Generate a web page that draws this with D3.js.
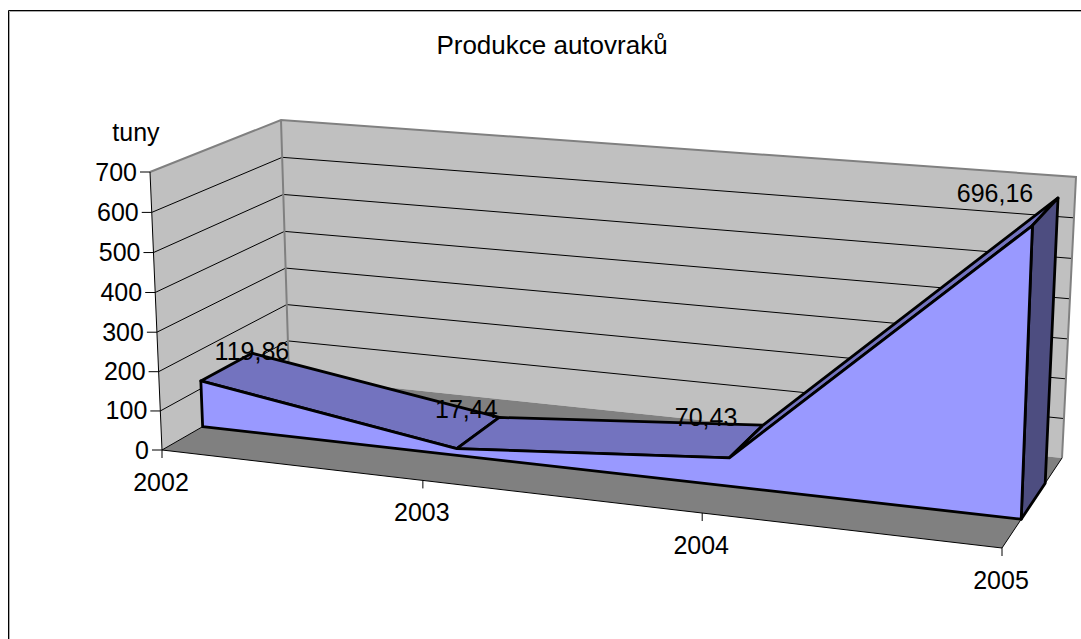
<!DOCTYPE html>
<html>
<head>
<meta charset="utf-8">
<script src="https://cdn.jsdelivr.net/npm/d3@7"></script>
<style>
  html, body { margin: 0; padding: 0; background: #fff; }
  svg { display: block; }
  text { font-family: "Liberation Sans", Arial, sans-serif; fill: #000; }
</style>
</head>
<body>
<div id="chart"></div>
<script>
const title = "Produkce autovraků";
const yAxisLabel = "tuny";
const years = ["2002", "2003", "2004", "2005"];
const tonnes = [119.86, 17.44, 70.43, 696.16];
const valueLabels = ["119,86", "17,44", "70,43", "696,16"];

const width = 1081, height = 639;

// corners of the plot box as Excel projected it
const box = {
  fbl: [162, 450], ftl: [150, 172], fbr: [1002, 548], ftr: [1012, 246],
  bbl: [289, 377], btl: [281, 120], bbr: [1062, 458], btr: [1076, 177]
};
// the series band sits inside the depth of the box
const depthFront = 0.32, depthBack = 0.72;

// perspective squeeze along an edge
const warp = (s, k) => s / (s + (1 - s) * k);

const x = d3.scalePoint().domain(years).range([0, 1]);
const y = d3.scaleLinear().domain([0, 700]).range([0, 1]);

// year position, value, depth -> screen point
function project(year, value, depth) {
  const t = warp(x(year), 1.11), v = warp(y(value), 1.02), d = depth;
  return [0, 1].map(i => {
    const front = d3.interpolateNumber(
      d3.interpolateNumber(box.fbl[i], box.fbr[i])(t),
      d3.interpolateNumber(box.ftl[i], box.ftr[i])(t))(v);
    const back = d3.interpolateNumber(
      d3.interpolateNumber(box.bbl[i], box.bbr[i])(t),
      d3.interpolateNumber(box.btl[i], box.btr[i])(t))(v);
    return d3.interpolateNumber(front, back)(d);
  });
}

const first = years[0], last = years[years.length - 1];
const line = d3.line();

const svg = d3.select("#chart").append("svg")
  .attr("width", width)
  .attr("height", height);

// chart frame, runs off the picture right and bottom
svg.append("path")
  .attr("d", "M9.5,639V11.5H1081")
  .attr("fill", "none").attr("stroke", "#aaa");
svg.append("path")
  .attr("d", "M8.5,639V10.5H1081")
  .attr("fill", "none").attr("stroke", "#000");

svg.append("text")
  .attr("x", 552).attr("y", 54)
  .attr("text-anchor", "middle")
  .attr("font-size", 26)
  .text(title);

svg.append("text")
  .attr("x", 136).attr("y", 141)
  .attr("text-anchor", "middle")
  .attr("font-size", 25)
  .text(yAxisLabel);

// walls
const walls = svg.append("g");
const wallPaths = [
  [project(first, 0, 0), project(first, 700, 0), project(first, 700, 1), project(first, 0, 1)],
  [project(first, 0, 1), project(first, 700, 1), project(last, 700, 1), project(last, 0, 1)]
];
walls.selectAll("path")
  .data(wallPaths)
  .join("path")
  .attr("d", d => line(d) + "Z")
  .attr("fill", "#c0c0c0");

// floor
svg.append("path")
  .attr("d", line([project(first, 0, 0), project(last, 0, 0), project(last, 0, 1), project(first, 0, 1)]) + "Z")
  .attr("fill", "#808080");

// gridlines
const ticks = y.ticks(7);
svg.append("g")
  .selectAll("path")
  .data(ticks.filter(d => d > 0 && d < 700))
  .join("path")
  .attr("d", d => line([project(first, d, 0), project(first, d, 1), project(last, d, 1)]))
  .attr("fill", "none")
  .attr("stroke", "#000")
  .attr("stroke-width", 1);

// wall edges
svg.append("path")
  .attr("d", line([project(first, 700, 0), project(first, 700, 1), project(last, 700, 1), project(last, 0, 1)]))
  .attr("fill", "none").attr("stroke", "#808080").attr("stroke-width", 2);
svg.append("path")
  .attr("d", line([project(first, 700, 1), project(first, 0, 1)]))
  .attr("fill", "none").attr("stroke", "#808080").attr("stroke-width", 2);

// floor front edges
svg.append("path")
  .attr("d", line([project(first, 0, 1), project(first, 0, 0), project(last, 0, 0), project(last, 0, 1)]))
  .attr("fill", "none").attr("stroke", "#000").attr("stroke-width", 1);

// area band
const band = svg.append("g")
  .attr("stroke", "#000")
  .attr("stroke-width", 2.8)
  .attr("stroke-linejoin", "round");

// top faces, one per year step
const steps = d3.pairs(d3.zip(years, tonnes));
band.selectAll("path.top")
  .data(steps)
  .join("path")
  .attr("class", "top")
  .attr("fill", "#7373bf")
  .attr("d", ([a, b]) => line([
    project(a[0], a[1], depthFront), project(b[0], b[1], depthFront),
    project(b[0], b[1], depthBack), project(a[0], a[1], depthBack)
  ]) + "Z");

// side at the last year
band.append("path")
  .attr("fill", "#4d4d80")
  .attr("d", line([
    project(last, 0, depthFront), project(last, tonnes[3], depthFront),
    project(last, tonnes[3], depthBack), project(last, 0, depthBack)
  ]) + "Z");

// front face
band.append("path")
  .attr("fill", "#9999ff")
  .attr("d", line([
    project(first, 0, depthFront),
    ...years.map((yr, i) => project(yr, tonnes[i], depthFront)),
    project(last, 0, depthFront)
  ]) + "Z");

// value axis
const axisG = svg.append("g");
axisG.append("path")
  .attr("d", line([project(first, 0, 0), project(first, 700, 0)]))
  .attr("stroke", "#000").attr("fill", "none");
ticks.forEach(d => {
  const p = project(first, d, 0);
  axisG.append("line")
    .attr("x1", p[0] - 10).attr("y1", p[1])
    .attr("x2", p[0]).attr("y2", p[1])
    .attr("stroke", "#000");
  axisG.append("text")
    .attr("x", p[0] - 13).attr("y", p[1] + 8.5)
    .attr("text-anchor", "end")
    .attr("font-size", 25)
    .text(d);
});

// category axis
const catG = svg.append("g");
years.forEach(yr => {
  const p = project(yr, 0, 0);
  catG.append("line")
    .attr("x1", p[0]).attr("y1", p[1])
    .attr("x2", p[0]).attr("y2", p[1] + 8)
    .attr("stroke", "#000");
  catG.append("text")
    .attr("x", p[0] - 1).attr("y", p[1] + 41)
    .attr("text-anchor", "middle")
    .attr("font-size", 25)
    .text(yr);
});

// value labels, placed by hand around the back top of each point
svg.append("g")
  .selectAll("text")
  .data(years)
  .join("text")
  .attr("x", (d, i) => project(d, tonnes[i], depthBack)[0] + [0, -33, -57, -63][i])
  .attr("y", (d, i) => project(d, tonnes[i], depthBack)[1] + [7, 1, 1, 4][i])
  .attr("text-anchor", "middle")
  .attr("font-size", 25)
  .text((d, i) => valueLabels[i]);
</script>
</body>
</html>
